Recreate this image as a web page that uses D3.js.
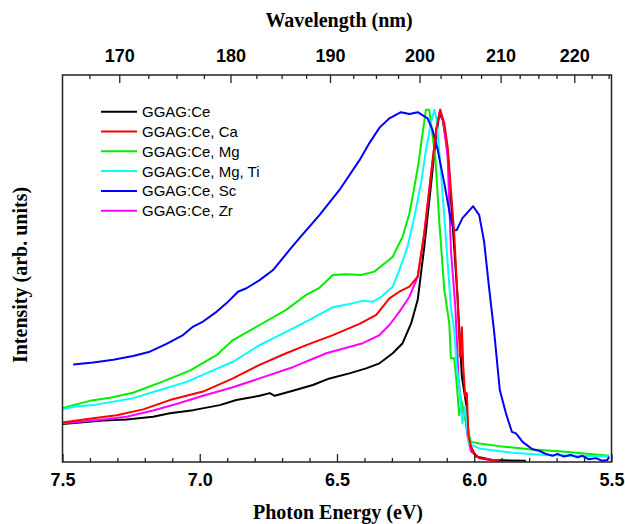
<!DOCTYPE html>
<html lang="en">
<head>
<meta charset="UTF-8">
<title>GGAG excitation spectra</title>
<script src="https://d3js.org/d3.v7.min.js"></script>
<style>
  body { margin: 0; background: #fff; }
  svg { display: block; }
</style>
</head>
<body>
<div id="chart"></div>
<script>

// photon energy (eV), intensity (arb. units, peak ~ 91)
const ggagCe = [[7.5,9.8],[7.436,10.2],[7.352,10.7],[7.267,11.0],[7.170,11.7],[7.109,12.6],[7.024,13.4],[6.927,14.7],[6.867,16.0],[6.782,17.1],[6.745,17.8],[6.727,17.1],[6.661,18.4],[6.588,19.9],[6.527,21.6],[6.455,22.9],[6.394,24.2],[6.345,25.5],[6.297,28.1],[6.261,30.7],[6.230,35.8],[6.206,41.9],[6.182,55.6],[6.157,72.0],[6.139,84.1],[6.127,90.1],[6.115,88.4],[6.097,80.6],[6.079,61.7],[6.061,42.7],[6.045,22.0],[6.030,15.2],[6.018,4.8],[5.994,1.4],[5.933,0.5],[5.812,0.3]];

const ggagCa = [[7.5,10.2],[7.448,10.7],[7.388,11.3],[7.303,12.1],[7.206,13.6],[7.109,16.0],[6.988,18.2],[6.879,21.6],[6.782,25.1],[6.685,28.1],[6.612,30.2],[6.515,32.8],[6.418,35.7],[6.357,38.0],[6.309,42.3],[6.273,44.0],[6.236,45.3],[6.206,47.9],[6.182,59.1],[6.157,74.6],[6.139,85.8],[6.124,91.0],[6.109,87.5],[6.097,81.5],[6.085,70.3],[6.073,59.1],[6.061,42.7],[6.052,27.2],[6.045,34.8],[6.040,24.6],[6.033,16.9],[6.027,17.8],[6.021,6.5],[6.006,2.7],[5.982,1.0],[5.945,0.5],[5.909,0.3]];

const ggagMg = [[7.5,13.9],[7.461,14.7],[7.4,15.8],[7.327,16.6],[7.243,17.9],[7.145,20.5],[7.036,23.6],[6.939,27.6],[6.879,31.5],[6.782,35.4],[6.685,39.3],[6.612,43.2],[6.564,45.0],[6.515,48.3],[6.467,48.5],[6.412,48.3],[6.364,49.2],[6.327,51.3],[6.297,53.0],[6.285,54.8],[6.261,58.2],[6.236,64.3],[6.218,71.1],[6.203,77.2],[6.190,84.1],[6.176,91.0],[6.164,91.0],[6.142,78.9],[6.127,61.7],[6.109,44.4],[6.091,35.8],[6.085,26.8],[6.073,26.8],[6.064,20.3],[6.055,12.1],[6.045,15.5],[6.033,11.0],[6.012,5.2],[5.982,4.8],[5.909,4.1],[5.800,3.3],[5.679,2.7],[5.509,1.6]];

const ggagMgTi = [[7.5,13.6],[7.461,14.3],[7.388,14.7],[7.315,15.6],[7.243,16.5],[7.145,18.6],[7.048,20.7],[6.964,23.3],[6.879,25.9],[6.782,30.2],[6.709,32.8],[6.612,36.3],[6.515,40.0],[6.455,40.8],[6.406,41.7],[6.370,41.4],[6.339,42.7],[6.297,45.3],[6.273,49.6],[6.243,55.6],[6.218,63.4],[6.194,72.0],[6.176,80.6],[6.157,87.9],[6.145,91.0],[6.137,88.4],[6.121,74.6],[6.103,57.4],[6.085,40.1],[6.073,34.1],[6.064,24.6],[6.055,19.9],[6.043,10.0],[6.033,14.5],[6.021,4.8],[5.982,3.5],[5.861,2.4],[5.739,1.8],[5.509,1.4]];

const ggagSc = [[7.461,25.2],[7.388,25.7],[7.315,26.4],[7.243,27.4],[7.182,28.5],[7.121,30.5],[7.061,32.8],[7.024,35.0],[6.988,36.3],[6.939,38.8],[6.903,41.0],[6.861,44.0],[6.830,44.9],[6.782,47.0],[6.733,49.6],[6.673,54.8],[6.636,57.9],[6.564,63.8],[6.491,70.3],[6.418,78.0],[6.382,82.4],[6.345,86.4],[6.309,88.8],[6.267,90.4],[6.236,89.9],[6.206,90.4],[6.170,88.8],[6.152,85.8],[6.133,80.6],[6.109,72.0],[6.085,62.5],[6.073,59.9],[6.064,59.9],[6.043,63.0],[6.004,66.1],[5.982,63.8],[5.964,56.9],[5.945,44.4],[5.927,33.3],[5.907,18.6],[5.885,12.7],[5.863,7.8],[5.848,7.4],[5.824,5.2],[5.788,3.3],[5.764,2.9],[5.739,2.1],[5.715,1.6],[5.697,2.1],[5.673,1.4],[5.648,1.8],[5.624,1.2],[5.606,1.6],[5.582,0.7],[5.557,1.0],[5.533,0.3],[5.515,0.5],[5.509,1.4]];

const ggagZr = [[7.5,10.0],[7.436,10.4],[7.352,11.0],[7.267,11.7],[7.170,13.3],[7.085,15.0],[6.988,17.1],[6.879,19.3],[6.782,21.6],[6.661,24.5],[6.539,28.1],[6.406,30.7],[6.345,32.8],[6.309,35.4],[6.273,38.8],[6.236,42.7],[6.206,47.9],[6.182,59.1],[6.157,74.6],[6.137,86.6],[6.124,91.0],[6.112,87.5],[6.097,78.9],[6.085,54.8],[6.069,40.1],[6.057,21.2],[6.045,13.4],[6.033,11.7],[6.024,6.5],[6.012,2.7],[5.982,1.0],[5.909,0.3]];

const seriesNames = ["GGAG:Ce", "GGAG:Ce, Ca", "GGAG:Ce, Mg", "GGAG:Ce, Mg, Ti", "GGAG:Ce, Sc", "GGAG:Ce, Zr"];
const seriesData = [ggagCe, ggagCa, ggagMg, ggagMgTi, ggagSc, ggagZr];
const seriesColors = ["#000000", "#ff0000", "#00ee00", "#00ffff", "#0000ff", "#ff00ff"];

const energyTicks = [7.5, 7.0, 6.5, 6.0, 5.5];
const wavelengthTicks = [170, 180, 190, 200, 210, 220];
const hc = 1239.84; // eV nm

const width = 625, height = 524;
const plotLeft = 62.5, plotRight = 611.5, plotTop = 75, plotBottom = 462;

const svg = d3.select("#chart")
  .append("svg")
  .attr("width", width)
  .attr("height", height);

const x = d3.scaleLinear().domain([7.5, 5.5]).range([plotLeft, plotRight]);
const y = d3.scaleLinear().domain([0, 100]).range([plotBottom, plotTop]);

svg.append("defs").append("clipPath").attr("id", "clip")
  .append("rect")
  .attr("x", plotLeft).attr("y", plotTop)
  .attr("width", plotRight - plotLeft).attr("height", plotBottom - plotTop);

// curves
const line = d3.line()
  .x(d => x(d[0]))
  .y(d => y(d[1]));

const drawOrder = [0, 5, 2, 3, 4, 1];
svg.append("g")
  .attr("clip-path", "url(#clip)")
  .selectAll("path")
  .data(drawOrder)
  .join("path")
    .attr("d", i => line(seriesData[i]))
    .attr("fill", "none")
    .attr("stroke", i => seriesColors[i])
    .attr("stroke-width", 2)
    .attr("stroke-linejoin", "round");

// bottom axis (photon energy)
const minorE = d3.range(75, 54, -1).map(v => v / 10).filter(v => !energyTicks.includes(v));

svg.append("g")
  .attr("transform", `translate(0, ${plotBottom})`)
  .call(d3.axisBottom(x).tickValues(minorE).tickSize(-4).tickFormat(""))
  .call(g => g.select(".domain").remove());

const xAxisB = svg.append("g")
  .attr("transform", `translate(0, ${plotBottom})`)
  .call(d3.axisBottom(x).tickValues(energyTicks).tickSize(-8).tickPadding(11).tickFormat(d3.format(".1f")));
xAxisB.select(".domain").remove();
xAxisB.selectAll("text")
  .attr("font-family", "'Liberation Sans', Arial, sans-serif")
  .attr("font-weight", "bold")
  .attr("font-size", 18)
  .attr("fill", "#000");

// top axis (wavelength)
const minorW = d3.range(167.5, 226, 2.5).filter(w => !wavelengthTicks.includes(w));

svg.append("g")
  .attr("transform", `translate(0, ${plotTop})`)
  .call(d3.axisTop(x).tickValues(minorW.map(w => hc / w)).tickSize(-4).tickFormat(""))
  .call(g => g.select(".domain").remove());

const xAxisT = svg.append("g")
  .attr("transform", `translate(0, ${plotTop})`)
  .call(d3.axisTop(x).tickValues(wavelengthTicks.map(w => hc / w)).tickSize(-8).tickPadding(13)
    .tickFormat(e => Math.round(hc / e)));
xAxisT.select(".domain").remove();
xAxisT.selectAll("text")
  .attr("font-family", "'Liberation Sans', Arial, sans-serif")
  .attr("font-weight", "bold")
  .attr("font-size", 18)
  .attr("fill", "#000");

svg.selectAll(".tick line").attr("stroke", "#222").attr("stroke-width", 1.3);

// frame
svg.append("rect")
  .attr("x", plotLeft).attr("y", plotTop)
  .attr("width", plotRight - plotLeft).attr("height", plotBottom - plotTop)
  .attr("fill", "none")
  .attr("stroke", "#222")
  .attr("stroke-width", 1.5);

// axis titles
svg.append("text")
  .attr("x", 339).attr("y", 27)
  .attr("text-anchor", "middle")
  .attr("font-family", "'Liberation Serif', 'Times New Roman', serif")
  .attr("font-weight", "bold")
  .attr("font-size", 20)
  .text("Wavelength (nm)");

svg.append("text")
  .attr("x", 338).attr("y", 519)
  .attr("text-anchor", "middle")
  .attr("font-family", "'Liberation Serif', 'Times New Roman', serif")
  .attr("font-weight", "bold")
  .attr("font-size", 20)
  .text("Photon Energy (eV)");

svg.append("text")
  .attr("transform", "translate(27, 275) rotate(-90)")
  .attr("text-anchor", "middle")
  .attr("font-family", "'Liberation Serif', 'Times New Roman', serif")
  .attr("font-weight", "bold")
  .attr("font-size", 20)
  .text("Intensity (arb. units)");

// legend
const legend = svg.append("g")
  .attr("transform", "translate(101, 111.7)");

const rows = legend.selectAll("g")
  .data(seriesNames)
  .join("g")
    .attr("transform", (d, i) => `translate(0, ${i * 19.8})`);

rows.append("line")
  .attr("x1", 0).attr("x2", 36)
  .attr("stroke", (d, i) => seriesColors[i])
  .attr("stroke-width", 2);

rows.append("text")
  .attr("x", 41).attr("y", 5.4)
  .attr("font-family", "'Liberation Sans', Arial, sans-serif")
  .attr("font-size", 15)
  .attr("fill", "#000")
  .text(d => d);

</script>
</body>
</html>
